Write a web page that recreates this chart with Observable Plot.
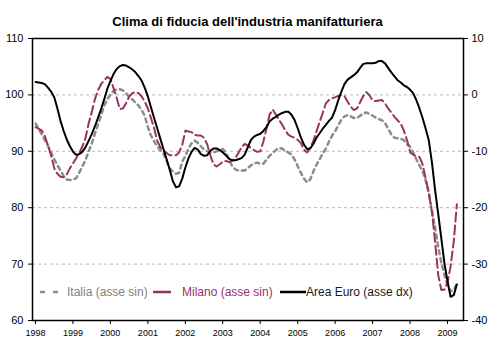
<!DOCTYPE html>
<html><head><meta charset="utf-8">
<script src="https://cdn.jsdelivr.net/npm/d3@7"></script>
<script src="https://cdn.jsdelivr.net/npm/@observablehq/plot@0.6"></script>
<style>
body{margin:0;background:#fff;font-family:"Liberation Sans",Arial,sans-serif;}
#wrap{position:relative;width:495px;height:344px;overflow:hidden;}
#title{position:absolute;left:0;top:14px;width:495px;text-align:center;font-size:13px;font-weight:bold;color:#000;line-height:15px;}
#chart{position:absolute;left:0;top:30px;}
.lg{position:absolute;top:284px;font-size:12px;line-height:16px;white-space:nowrap;}
.lg svg{position:absolute;top:0;}
</style>
</head><body>
<div id="wrap">
<div id="title">Clima di fiducia dell'industria manifatturiera</div>
<div id="chart"></div>
<div class="lg" style="left:40px;width:120px;color:#808080"><svg width="20" height="16"><line x1="0" x2="20" y1="8" y2="8" stroke="#8c8c8c" stroke-width="2.5" stroke-dasharray="5,8"/></svg><span style="position:absolute;left:27px">Italia (asse sin)</span></div>
<div class="lg" style="left:153px;width:130px;color:#993366"><svg width="18" height="16"><line x1="0" x2="18" y1="8" y2="8" stroke="#993366" stroke-width="2.5"/></svg><span style="position:absolute;left:29px">Milano (asse sin)</span></div>
<div class="lg" style="left:280px;width:140px;color:#1a1a1a"><svg width="26" height="16"><line x1="0" x2="26" y1="8" y2="8" stroke="#000" stroke-width="2.5"/></svg><span style="position:absolute;left:26px">Area Euro (asse dx)</span></div>
</div>
<script>
// Monthly data, Jan 1998 .. Apr 2009
const startMonth = [1998, 0];
const italia = [
 94.9,94.0,93.0,92.0,91.0,89.8,88.6,87.5,86.6,85.6,85.0,84.9,
 85.0,85.2,86.2,87.3,88.4,89.9,91.3,93.1,94.7,96.4,98.1,99.2,
 100.1,100.7,101.0,101.0,100.8,100.3,99.6,99.2,98.6,98.1,97.3,96.2,
 94.2,92.8,91.8,90.9,90.2,89.6,88.3,87.0,86.4,86.0,86.2,88.2,
 89.2,90.5,91.4,91.9,91.5,90.9,90.3,90.0,89.8,89.8,90.0,90.3,
 90.4,89.8,88.6,87.4,86.8,86.6,86.6,86.6,87.0,87.5,87.8,88.0,
 87.8,87.8,88.5,89.2,89.7,90.2,90.6,90.5,90.0,89.8,89.4,88.5,
 87.3,86.2,85.2,84.5,85.0,86.4,87.6,88.6,89.6,90.5,91.7,92.8,
 93.6,94.6,95.6,96.2,96.4,96.2,95.9,95.9,96.3,96.7,96.9,96.6,
 96.3,96.0,95.7,95.5,95.0,94.0,93.0,92.4,92.3,92.2,92.0,91.3,
 90.8,89.8,88.6,87.5,86.5,84.8,82.6,79.3,76.4,73.0,70.2,68.0,
 66.2,65.2,65.5,66.5
];
const milano = [
 94.3,94.0,93.7,92.7,91.0,89.3,87.0,86.0,85.5,85.4,85.9,87.0,
 87.9,88.7,89.7,90.8,92.3,94.8,96.9,99.2,100.8,101.9,102.6,103.2,
 102.8,101.2,99.5,97.5,97.6,98.5,99.7,100.3,100.5,100.3,99.7,98.8,
 97.5,95.9,94.1,91.9,90.7,90.1,89.7,89.3,89.3,89.3,89.8,91.2,
 93.7,93.5,93.4,92.9,92.8,92.8,92.4,91.2,89.3,87.7,87.3,87.7,
 88.2,88.3,88.1,88.3,88.8,89.7,90.7,91.3,91.0,90.6,90.2,89.9,
 90.0,91.7,94.0,96.5,97.4,96.5,95.6,94.7,93.7,92.9,92.6,92.4,
 92.0,91.5,90.3,89.8,90.6,91.8,93.5,95.2,96.8,98.5,99.1,99.4,
 99.6,99.8,100.0,99.8,98.8,97.9,97.3,97.6,98.7,99.8,100.5,99.9,
 99.0,98.9,99.0,99.1,98.5,97.6,96.9,96.1,95.5,94.9,93.7,92.0,
 89.8,89.4,89.1,89.0,87.7,85.2,82.6,79.2,74.0,68.0,65.4,65.5,
 66.8,69.6,74.0,80.6
];
// Area Euro, right axis values
const euro = [
 2.3,2.2,2.1,1.9,1.3,0.6,-0.4,-2.4,-4.6,-6.4,-7.9,-9.1,
 -10.1,-10.6,-10.5,-10.1,-9.3,-8.2,-7.0,-5.6,-4.1,-2.5,-0.8,1.1,
 2.5,3.7,4.6,5.1,5.3,5.2,4.9,4.5,4.0,3.3,2.5,1.2,
 -0.4,-2.2,-4.1,-5.9,-7.8,-9.6,-11.4,-13.3,-15.3,-16.4,-16.2,-14.8,
 -12.8,-11.3,-10.1,-9.4,-9.7,-10.5,-10.8,-10.7,-9.9,-9.5,-9.5,-9.8,
 -10.2,-10.7,-11.3,-11.6,-11.6,-11.4,-11.2,-10.6,-9.3,-8.0,-7.4,-7.1,
 -6.9,-6.4,-5.7,-4.7,-4.2,-3.9,-3.5,-3.2,-3.0,-3.0,-3.5,-4.5,
 -6.0,-7.5,-8.8,-9.6,-9.5,-8.7,-7.6,-6.8,-6.0,-5.3,-4.6,-4.0,
 -2.6,-1.0,0.6,1.9,2.7,3.1,3.5,4.0,4.8,5.5,5.6,5.6,
 5.6,5.7,6.0,6.0,5.6,4.8,4.0,3.3,2.6,2.2,1.7,1.4,
 0.9,0.3,-0.9,-2.4,-4.1,-6.0,-8.1,-12.1,-16.9,-21.2,-25.5,-30.0,
 -33.2,-35.8,-35.5,-33.6
];
const years = d3.range(1998, 2010);
const leftTicks = [60, 70, 80, 90, 100, 110];
const rightTicks = [-40, -30, -20, -10, 0, 10];
const gridValues = [70, 80, 90, 100];
const rightOffset = 100; // right axis value r sits where left axis shows r + 100

const rows = italia.map((v, i) => ({
  date: d3.utcMonth.offset(new Date(Date.UTC(startMonth[0], startMonth[1], 1)), i + 1),
  italia: v, milano: milano[i], euro: euro[i] + rightOffset
}));

const chart = Plot.plot({
  width: 495, height: 314,
  marginTop: 8, marginBottom: 24, marginLeft: 32, marginRight: 32,
  style: {fontFamily: "'Liberation Sans', Arial, sans-serif", fontSize: "11px", color: "#000", background: "#fff", overflow: "visible"},
  x: {type: "utc", domain: [new Date(Date.UTC(1998,0,1)), new Date(Date.UTC(2009,6,5))]},
  y: {domain: [60, 110]},
  marks: [
    Plot.ruleY(gridValues, {stroke: "#b8b8b8", strokeDasharray: "3,3", strokeWidth: 1}),
    Plot.line(rows, {x: "date", y: "italia", stroke: "#8c8c8c", strokeWidth: 2.5, strokeDasharray: "4,4"}),
    Plot.line(rows, {x: "date", y: "milano", stroke: "#993366", strokeWidth: 2, strokeDasharray: "9,4"}),
    Plot.line(rows, {x: "date", y: "euro", stroke: "#000", strokeWidth: 2}),
    Plot.frame({stroke: "#000", strokeWidth: 1.5}),
    Plot.axisY(leftTicks, {anchor: "left", tickSize: 4, tickPadding: 5, label: null, fontSize: 11}),
    Plot.axisY(rightTicks.map(r => r + rightOffset), {anchor: "right", tickSize: 4, tickPadding: 4, label: null, fontSize: 11, tickFormat: d => String(d - rightOffset)}),
    Plot.axisX(years.map(y => new Date(Date.UTC(y,0,1))), {anchor: "bottom", tickSize: 4, tickPadding: 5, label: null, fontSize: 9, dx: 3, tickFormat: d => String(d.getUTCFullYear())})
  ]
});
document.getElementById("chart").appendChild(chart);
</script>
</body></html>
